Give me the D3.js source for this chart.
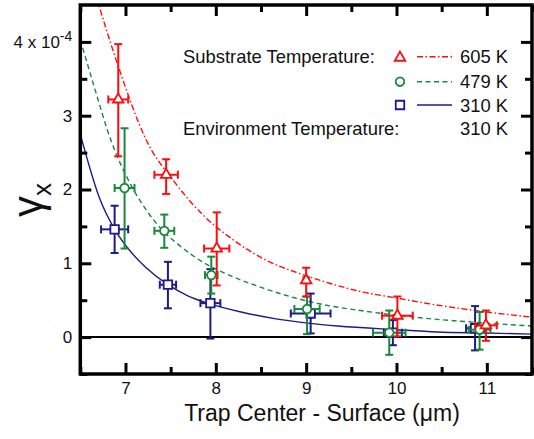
<!DOCTYPE html>
<html>
<head>
<meta charset="utf-8">
<script src="https://cdn.jsdelivr.net/npm/d3@7"></script>
<style>
  body { margin: 0; background: #fff; }
  svg { display: block; font-family: "Liberation Sans", Arial, Helvetica, sans-serif; }
</style>
</head>
<body>
<svg id="chart" width="534" height="439"></svg>
<script>
// ---------- data (units: x in µm, y in 1e-4) ----------
const xTicksMajor = [7, 8, 9, 10, 11];
const xTicksMinor = [6.5, 7.5, 8.5, 9.5, 10.5, 11.5];
const yTicksMajor = [0, 1, 2, 3, 4];
const yTicksMinor = [-0.5, 0.5, 1.5, 2.5, 3.5];

// 605 K (red triangles)
const redX    = [6.92, 7.45, 8.01, 9.00, 10.01, 10.99];
const redY    = [3.22, 2.20, 1.20, 0.77, 0.29, 0.16];
const redYHi  = [3.97, 2.41, 1.69, 0.94, 0.55, 0.36];
const redYLo  = [2.45, 1.94, 0.70, 0.55, 0.01, -0.05];
const redXErr = [0.11, 0.13, 0.14, 0.03, 0.17, 0.12];

// 479 K (green circles)
const greenX    = [6.99, 7.43, 7.95, 9.01, 9.92, 10.92];
const greenY    = [2.02, 1.44, 0.84, 0.38, 0.06, 0.10];
const greenYHi  = [2.83, 1.66, 1.09, 0.55, 0.36, 0.34];
const greenYLo  = [1.20, 1.21, 0.59, 0.04, -0.24, -0.17];
const greenXErr = [0.11, 0.11, 0.07, 0.14, 0.18, 0.12];

// 310 K (blue squares)
const blueX    = [6.88, 7.47, 7.94, 9.05, 9.96, 10.87];
const blueY    = [1.46, 0.71, 0.46, 0.32, 0.06, 0.12];
const blueYHi  = [1.78, 1.02, 0.92, 0.59, 0.23, 0.42];
const blueYLo  = [1.14, 0.39, -0.02, 0.05, -0.11, -0.18];
const blueXErr = [0.15, 0.09, 0.11, 0.22, 0.10, 0.10];

// fit curves
const redCurveX = [6.68, 6.92, 7.23, 7.55, 7.87, 8.19, 8.56, 8.93, 9.26, 9.63, 10.0, 10.37, 11.0, 11.5];
const redCurveY = [4.60, 3.67, 2.67, 2.09, 1.64, 1.32, 1.04, 0.86, 0.73, 0.61, 0.53, 0.45, 0.34, 0.27];
const greenCurveX = [6.5, 6.63, 6.85, 7.07, 7.22, 7.40, 7.58, 7.85, 8.11, 8.51, 8.88, 9.19, 9.6, 10.36, 11.0, 11.5];
const greenCurveY = [4.03, 3.49, 2.63, 2.04, 1.74, 1.46, 1.26, 1.02, 0.86, 0.67, 0.53, 0.44, 0.36, 0.25, 0.19, 0.15];
const blueCurveX = [6.5, 6.72, 6.88, 7.07, 7.22, 7.47, 7.69, 7.91, 8.28, 8.65, 9.02, 9.35, 10.0, 10.45, 11.0, 11.5];
const blueCurveY = [2.75, 1.86, 1.46, 1.14, 0.95, 0.71, 0.56, 0.46, 0.34, 0.25, 0.19, 0.15, 0.10, 0.07, 0.055, 0.04];

const legendLabels = ["605 K", "479 K", "310 K"];
const envLabel = "310 K";

// ---------- layout ----------
const svg = d3.select("#chart");
const L = 80.3, R = 532, T = 5, B = 374;
const x = d3.scaleLinear().domain([6.5, 11.5]).range([L, R]);
const y = d3.scaleLinear().domain([-0.5, 4.5]).range([B, T]);

const RED = "#ff0d0d", GREEN = "#17893a", BLUE = "#1f1a8a";

svg.append("defs").append("clipPath").attr("id", "clip")
  .append("rect").attr("x", L).attr("y", T).attr("width", R - L).attr("height", B - T);

// zero line
svg.append("line").attr("x1", L).attr("x2", R).attr("y1", y(0)).attr("y2", y(0))
  .attr("stroke", "#000").attr("stroke-width", 2);

// curves
const curveGen = d3.line().x(d => x(d[0])).y(d => y(d[1])).curve(d3.curveMonotoneX);
const plotG = svg.append("g").attr("clip-path", "url(#clip)");
function drawCurve(xs, ys, color, dash) {
  plotG.append("path").datum(xs.map((v, i) => [v, ys[i]]))
    .attr("d", curveGen).attr("fill", "none").attr("stroke", color)
    .attr("stroke-width", 1.4).attr("stroke-dasharray", dash);
}
drawCurve(blueCurveX, blueCurveY, BLUE, null);
drawCurve(greenCurveX, greenCurveY, GREEN, "5,3.5");
drawCurve(redCurveX, redCurveY, RED, "6,2.5,1.5,2.5");

// points with error bars
const symTri = d3.symbol().type(d3.symbolTriangle).size(48);
const symCirc = d3.symbol().type(d3.symbolCircle).size(58);
const symSq = d3.symbol().type(d3.symbolSquare).size(72);
function drawSeries(xs, ys, hi, lo, xe, color, sym) {
  const g = svg.append("g").attr("stroke", color).attr("stroke-width", 2).attr("fill", "none");
  const cap = 4;
  xs.forEach((xv, i) => {
    const px = x(xv), py = y(ys[i]);
    g.append("line").attr("x1", px).attr("x2", px).attr("y1", y(hi[i])).attr("y2", y(lo[i]));
    g.append("line").attr("x1", px - cap).attr("x2", px + cap).attr("y1", y(hi[i])).attr("y2", y(hi[i]));
    g.append("line").attr("x1", px - cap).attr("x2", px + cap).attr("y1", y(lo[i])).attr("y2", y(lo[i]));
    const xl = x(xv - xe[i]), xr = x(xv + xe[i]);
    g.append("line").attr("x1", xl).attr("x2", xr).attr("y1", py).attr("y2", py);
    g.append("line").attr("x1", xl).attr("x2", xl).attr("y1", py - cap).attr("y2", py + cap);
    g.append("line").attr("x1", xr).attr("x2", xr).attr("y1", py - cap).attr("y2", py + cap);
    g.append("path").attr("d", sym()).attr("transform", `translate(${px},${py})`)
      .attr("fill", "#fff").attr("stroke-width", 1.8);
  });
}
drawSeries(blueX, blueY, blueYHi, blueYLo, blueXErr, BLUE, symSq);
drawSeries(greenX, greenY, greenYHi, greenYLo, greenXErr, GREEN, symCirc);
drawSeries(redX, redY, redYHi, redYLo, redXErr, RED, symTri);

// axes (inward ticks)
function styleAxis(g) {
  g.select(".domain").remove();
  g.selectAll(".tick line").attr("stroke", "#000").attr("stroke-width", 3);
  g.selectAll(".tick text").attr("fill", "#111").attr("font-size", "17px");
}
svg.append("g").attr("transform", `translate(0,${B})`)
  .call(d3.axisBottom(x).tickValues(xTicksMajor).tickSize(-11).tickPadding(8).tickFormat(d3.format("d")))
  .call(styleAxis);
svg.append("g").attr("transform", `translate(0,${B})`)
  .call(d3.axisBottom(x).tickValues(xTicksMinor).tickSize(-7).tickFormat(""))
  .call(styleAxis);
svg.append("g").attr("transform", `translate(0,${T})`)
  .call(d3.axisTop(x).tickValues(xTicksMajor).tickSize(-11).tickFormat(""))
  .call(styleAxis);
svg.append("g").attr("transform", `translate(0,${T})`)
  .call(d3.axisTop(x).tickValues(xTicksMinor).tickSize(-7).tickFormat(""))
  .call(styleAxis);
const yAx = svg.append("g").attr("transform", `translate(${L},0)`)
  .call(d3.axisLeft(y).tickValues(yTicksMajor).tickSize(-11).tickPadding(8).tickFormat(d3.format("d")))
  .call(styleAxis);
yAx.selectAll(".tick text").filter(d => d === 4).each(function () {
  const t = d3.select(this).text("4 x 10");
  t.append("tspan").attr("dy", "-0.5em").attr("font-size", "14px").text("-4");
});
svg.append("g").attr("transform", `translate(${L},0)`)
  .call(d3.axisLeft(y).tickValues(yTicksMinor).tickSize(-7).tickFormat(""))
  .call(styleAxis);
svg.append("g").attr("transform", `translate(${R},0)`)
  .call(d3.axisRight(y).tickValues(yTicksMajor).tickSize(-11).tickFormat(""))
  .call(styleAxis);
svg.append("g").attr("transform", `translate(${R},0)`)
  .call(d3.axisRight(y).tickValues(yTicksMinor).tickSize(-7).tickFormat(""))
  .call(styleAxis);

// frame
svg.append("rect").attr("x", L).attr("y", T).attr("width", R - L).attr("height", B - T)
  .attr("fill", "none").attr("stroke", "#000").attr("stroke-width", 3.5);

// axis titles
svg.append("text").attr("x", 322).attr("y", 421).attr("text-anchor", "middle")
  .attr("font-size", "23px").attr("fill", "#111").text("Trap Center - Surface (\u03bcm)");
const yt = svg.append("text").attr("transform", "translate(42,200) rotate(-90)")
  .attr("text-anchor", "middle").attr("fill", "#111");
yt.append("tspan").attr("font-size", "42px").text("\u03b3");
yt.append("tspan").attr("font-size", "26px").attr("dy", "9").text("x");

// legend
const lg = svg.append("g").attr("font-size", "18.4px").attr("fill", "#111");
lg.append("text").attr("x", 183).attr("y", 63).text("Substrate Temperature:");
lg.append("text").attr("x", 183).attr("y", 135).text("Environment Temperature:");
lg.append("text").attr("x", 460).attr("y", 135).text(envLabel);
const legColors = [RED, GREEN, BLUE];
const legSyms = [symTri, symCirc, symSq];
const legDash = ["6,2.5,1.5,2.5", "5,3.5", null];
const legYs = [56.7, 81.7, 105];
legendLabels.forEach((lab, i) => {
  const ly = legYs[i];
  svg.append("path").attr("d", legSyms[i]()).attr("transform", `translate(400,${ly + (i === 0 ? 1 : 0)})`)
    .attr("fill", "#fff").attr("stroke", legColors[i]).attr("stroke-width", 1.8);
  svg.append("line").attr("x1", 417).attr("x2", 452).attr("y1", ly).attr("y2", ly)
    .attr("stroke", legColors[i]).attr("stroke-width", 1.6).attr("stroke-dasharray", legDash[i]);
  lg.append("text").attr("x", 460).attr("y", ly + 6.5).text(lab);
});
</script>
</body>
</html>
